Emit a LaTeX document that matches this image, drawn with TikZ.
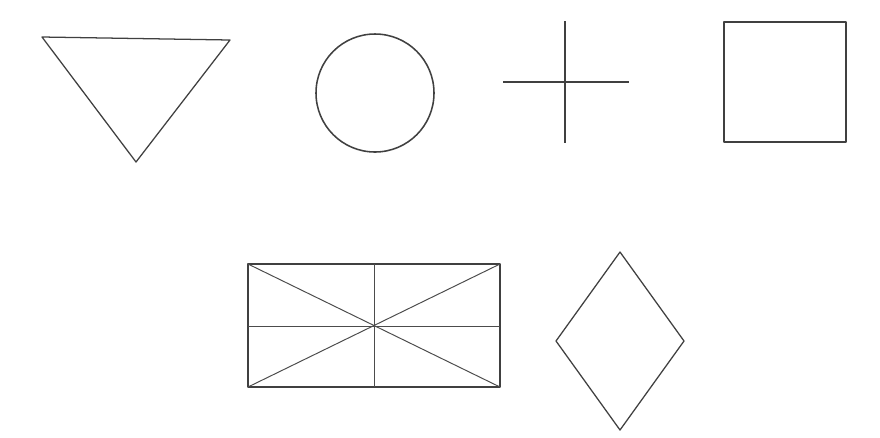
\documentclass[tikz,border=0pt]{standalone}

\begin{document}
\begin{tikzpicture}[x=0.025cm, y=-0.025cm, line join=round,
    outline/.style={draw=black!75, line width=0.9pt},
    thin outline/.style={draw=black!70, line width=0.7pt}]

    % ==========================================
    % 1. CANVAS
    % ==========================================
    \useasboundingbox (0,0) rectangle (880,437);

    % ==========================================
    % 2. TOP ROW
    % ==========================================
    % Downward triangle
    \coordinate (TriL) at (42,37);
    \coordinate (TriR) at (230,40);
    \coordinate (TriB) at (136,162);
    \draw[outline] (TriL) -- (TriR) -- (TriB) -- cycle;

    % Circle
    \coordinate (CircC) at (375,93);
    \draw[outline, line width=1.1pt] (CircC) circle[radius=59];

    % Cross
    \coordinate (CrossW) at (503,82);
    \coordinate (CrossE) at (629,82);
    \coordinate (CrossN) at (565,21);
    \coordinate (CrossS) at (565,143);
    \draw[outline] (CrossW) -- (CrossE);
    \draw[outline] (CrossN) -- (CrossS);

    % Square
    \coordinate (SqNW) at (724,22);
    \coordinate (SqSE) at (846,142);
    \draw[outline, line width=1.1pt] (SqNW) rectangle (SqSE);

    % ==========================================
    % 3. BOTTOM ROW
    % ==========================================
    % Rectangle with midlines and diagonals
    \coordinate (RectNW) at (248,264);
    \coordinate (RectNE) at (500,264);
    \coordinate (RectSE) at (500,387);
    \coordinate (RectSW) at (248,387);
    \coordinate (RectC)  at (374,326);
    \draw[outline, line width=1.1pt] (RectNW) rectangle (RectSE);
    \draw[thin outline] (RectNW) -- (RectSE);
    \draw[thin outline] (RectSW) -- (RectNE);
    \draw[thin outline] (248,326) -- (500,326);
    \draw[thin outline] (374,264) -- (374,387);

    % Diamond
    \coordinate (DiaN) at (620,252);
    \coordinate (DiaE) at (684,341);
    \coordinate (DiaS) at (620,430);
    \coordinate (DiaW) at (556,341);
    \draw[outline] (DiaN) -- (DiaE) -- (DiaS) -- (DiaW) -- cycle;

\end{tikzpicture}
\end{document}
